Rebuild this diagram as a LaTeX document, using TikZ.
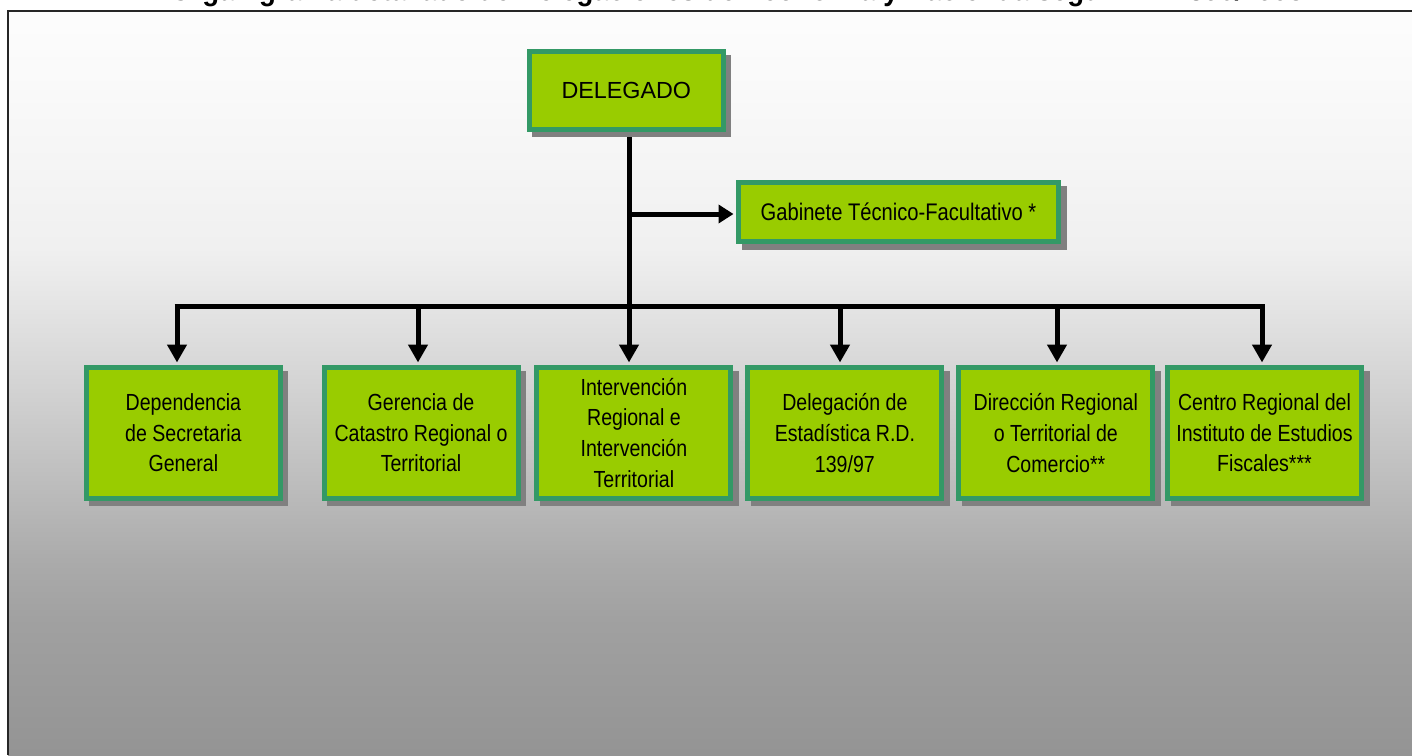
\documentclass[tikz,border=0pt]{standalone}
\usepackage{fontspec}
\setmainfont{Liberation Sans}
\newfontfamily\narrowfont{Liberation Sans}[FakeStretch=0.84]
\newfontfamily\titlefont{Liberation Sans}[FakeStretch=0.92]
\usetikzlibrary{arrows.meta,shadows}
\definecolor{boxgreen}{HTML}{99CC00}
\definecolor{boxborder}{HTML}{339966}
\definecolor{shadowgray}{HTML}{808080}
\definecolor{framegray}{HTML}{262626}
\definecolor{s0}{gray}{0.99}
\definecolor{s1}{gray}{0.975}
\definecolor{s2}{gray}{0.94}
\definecolor{s3}{gray}{0.90}
\definecolor{s4}{gray}{0.815}
\definecolor{s5}{gray}{0.725}
\definecolor{s6}{gray}{0.67}
\definecolor{s7}{gray}{0.63}
\definecolor{s8}{gray}{0.58}
\pgfdeclarelayer{back}
\pgfdeclarelayer{links}
\pgfsetlayers{back,links,main}
\tikzset{
  orgbox/.style={draw=boxborder, line width=5pt, fill=boxgreen, inner sep=0pt,
    align=center, text=black,
    drop shadow={shadow xshift=5.5pt, shadow yshift=-5.5pt, fill=shadowgray,
      draw=shadowgray, line width=5pt, opacity=1}},
  lowbox/.style={orgbox, minimum width=194pt, minimum height=130.7pt,
    font=\narrowfont\fontsize{23.3}{30.7}\selectfont},
  link/.style={line width=5pt, draw=black},
  linkarrow/.style={link, -{Triangle[length=18pt,width=19pt]}, shorten >=2.5pt},
  sidearrow/.style={link, -{Triangle[length=15pt,width=18pt]}, shorten >=2.5pt},
  bgband/.style={draw=none},
}
\begin{document}
\begin{tikzpicture}[x=1pt,y=-1pt]
\useasboundingbox (0,0) rectangle (1412,755);
\begin{pgfonlayer}{back}
  \fill[white] (0,0) rectangle (1412,755);
  \shade[bgband, top color=s0, bottom color=s1] (8,11) rectangle (1412,100.5);
  \shade[bgband, top color=s1, bottom color=s2] (8,100) rectangle (1412,250.5);
  \shade[bgband, top color=s2, bottom color=s3] (8,250) rectangle (1412,300.5);
  \shade[bgband, top color=s3, bottom color=s4] (8,300) rectangle (1412,400.5);
  \shade[bgband, top color=s4, bottom color=s5] (8,400) rectangle (1412,500.5);
  \shade[bgband, top color=s5, bottom color=s6] (8,500) rectangle (1412,560.5);
  \shade[bgband, top color=s6, bottom color=s7] (8,560) rectangle (1412,620.5);
  \shade[bgband, top color=s7, bottom color=s8] (8,620) rectangle (1412,755);
  \draw[framegray, line width=2.2pt] (8,755) -- (8,11) -- (1412,11);
\end{pgfonlayer}

\node[anchor=base west, font=\titlefont\bfseries\fontsize{30}{36}\selectfont, inner sep=0pt]
  (title) at (170,0.3) {Organigrama detallado de Delegaciones de Economía y Hacienda según R.D. 390/1998};

\node[orgbox, minimum width=194pt, minimum height=77.4pt, font=\fontsize{23.3}{28}\selectfont]
  (del) at (626.3,90.5) {DELEGADO};
\node[orgbox, minimum width=320pt, minimum height=59pt, font=\narrowfont\fontsize{24}{29}\selectfont]
  (gab) at (898.5,212) {Gabinete Técnico-Facultativo *};

\node[lowbox] (b1) at (183.4,432.85) {Dependencia\\de Secretaria\\General};
\node[lowbox] (b2) at (421,432.85) {Gerencia de\\Catastro Regional o\\Territorial};
\node[lowbox] (b3) at (633.9,432.85) {Intervención\\Regional e\\Intervención\\Territorial};
\node[lowbox] (b4) at (844.9,432.85) {Delegación de\\Estadística R.D.\\139/97};
\node[lowbox] (b5) at (1055.8,432.85) {Dirección Regional\\o Territorial de\\Comercio**};
\node[lowbox] (b6) at (1264.5,432.85) {Centro Regional del\\Instituto de Estudios\\Fiscales***};

\coordinate (k1) at (177,306.5);
\coordinate (k2) at (418,306.5);
\coordinate (k3) at (629,306.5);
\coordinate (k4) at (840,306.5);
\coordinate (k5) at (1057,306.5);
\coordinate (k6) at (1262,306.5);
\coordinate (j) at (629,214);

\begin{pgfonlayer}{links}
  \draw[linkarrow] (del.south -| k3) -- (k3 |- b3.north);
  \draw[sidearrow] (j) -- (j -| gab.west);
  \draw[link] ([xshift=-2.5pt]k1) -- ([xshift=2.5pt]k6);
  \foreach \i in {1,2,4,5,6} {
    \draw[linkarrow] (k\i) -- (k\i |- b\i.north);
  }
\end{pgfonlayer}
\end{tikzpicture}
\end{document}
